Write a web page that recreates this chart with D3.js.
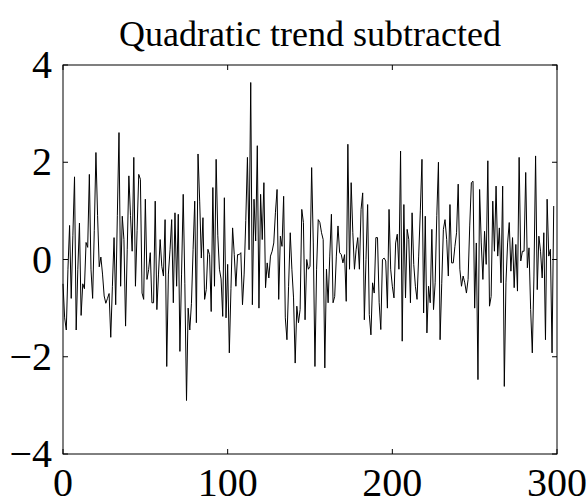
<!DOCTYPE html>
<html>
<head>
<meta charset="utf-8">
<script src="https://cdn.jsdelivr.net/npm/d3@7"></script>
<style>
  body { margin: 0; background: #fff; }
  text { font-family: "Liberation Serif", "Times New Roman", serif; fill: #000; }
</style>
</head>
<body>
<div id="chart"></div>
<script>
// residuals after removing the quadratic trend
var residuals = [
  -0.5, -1.2, -1.45, -0.2, 0.7, -0.8, 0.5, 1.7, -1.45, -0.2,
  0.75, -1.15, -0.5, -0.6, 0.35, 0.25, 1.75, -0.2, -0.8, 0.6,
  2.2, 0.9, -0.15, 0.05, -0.3, -0.75, -0.9, -0.8, -0.7, -1.6,
  -0.55, 0.45, -0.93, 0.9, 2.61, -0.55, 0.89, 0.41, -1.37, 0.2,
  1.72, 0.9, 0.17, 2.1, -0.55, 0.6, 1.75, 1.65, -0.69, -0.82,
  1.24, -0.41, -0.21, 0.14, -0.89, -0.89, 1.2, -1.03, -0.3, 0.41,
  -0.14, -0.34, 0.82, -2.2, -0.3, 0.2, 0.82, -0.89, 0.96, -0.55,
  0.93, -1.89, -0.3, 1.34, -0.5, -2.9, -1.0, -1.45, -0.9, 0.2,
  1.2, -1.3, 2.17, 1.2, 0.03, 0.86, -0.82, -0.62, 0.21, 0.1,
  -1.07, 1.48, -0.55, 2.06, 0.5, -0.2, -0.4, -1.17, 1.27, -1.2,
  -0.1, -1.92, -0.6, 0.65, 0.1, -0.55, 0.1, 0.1, 0.14, -0.93,
  -0.3, 0.8, 2.1, 0.2, 3.64, -0.93, 1.24, 0.38, 2.34, -1.0,
  1.34, 0.41, 1.58, -0.58, -0.07, -0.38, 0.07, 0.17, 0.34, 0.96,
  1.44, -0.82, 0.48, 0.27, 1.3, -1.2, -1.65, -0.55, 0.55, -0.2,
  -0.79, -2.13, -0.96, -1.3, -1.03, 1.03, 0.76, -1.24, 0, -0.2,
  -0.14, 1.89, 0.34, -2.2, -0.2, 0.82, 0.76, 0.55, 0.41, -2.23,
  -0.2, -0.89, 0.07, 0.93, -0.89, -0.76, 0.07, 0.69, 0.14, 0.1,
  -0.07, 0.1, -0.86, 2.37, -0.2, 1.58, 0.55, -0.2, 0.2, 0.45,
  -0.2, 1.03, 1.37, -1.24, 0.0, 1.13, -1.13, -1.55, -0.48, -0.69,
  0.45, 0.45, -0.89, -1.44, 0, 0.03, -0.03, -1.0, 1.03, -0.2,
  -0.55, -0.79, 0.34, 0.52, -0.2, 2.23, -1.68, 1.13, -0.79, 0.62,
  0.41, -0.89, 0.96, -0.1, -0.55, -0.82, 0.07, 1.0, 2.06, -1.1,
  0.89, -1.51, -0.55, -0.89, 0.62, -1.03, -0.48, 0.9, 2.0, -1.65,
  -0.5, 0.62, 0.82, 0.41, -0.34, 1.13, -0.07, -0.07, 0.27, 0.55,
  1.55, -0.2, -0.55, -0.34, -0.48, -0.69, -0.41, 0.69, 1.58, 1.61,
  -1.0, 0.34, -2.47, 1.44, 0.34, -0.41, 0.58, -0.1, 2.03, -0.96,
  -0.76, 1.2, 0.17, 1.51, 0.07, 0.65, -0.48, 1.51, -2.61, -0.48,
  0.34, 0.76, -0.24, 0.45, -0.58, 0.31, -0.65, 2.1, -0.03, 0.17,
  0.17, 1.79, -0.17, 0.24, -1.03, -1.92, -0.34, 2.13, -0.62, 0.48,
  0.17, -0.38, 0.55, -1.65, 1.24, 0.07, 0.21, -1.92, 1.1
];
var xTicks = [0, 100, 200, 300];
var yTicks = [-4, -2, 0, 2, 4];
var title = "Quadratic trend subtracted";

function draw() {
  var width = 588, height = 499;
  var m = { left: 63, right: 557, top: 65, bottom: 454 };

  var svg = d3.select("#chart").append("svg")
    .attr("width", width)
    .attr("height", height);

  var x = d3.scaleLinear().domain([0, 300]).range([m.left, m.right]);
  var y = d3.scaleLinear().domain([-4, 4]).range([m.bottom, m.top]);

  var fmt = function(d) { return d < 0 ? "\u2212" + Math.abs(d) : String(d); };

  // frame
  svg.append("rect")
    .attr("x", m.left).attr("y", m.top)
    .attr("width", m.right - m.left).attr("height", m.bottom - m.top)
    .attr("fill", "none").attr("stroke", "#000").attr("stroke-width", 1);

  // ticks, inward on all four sides
  var tl = 5;
  svg.selectAll("line.xb").data(xTicks).enter().append("line")
    .attr("x1", x).attr("x2", x).attr("y1", m.bottom).attr("y2", m.bottom - tl)
    .attr("stroke", "#000");
  svg.selectAll("line.xt").data(xTicks).enter().append("line")
    .attr("x1", x).attr("x2", x).attr("y1", m.top).attr("y2", m.top + tl)
    .attr("stroke", "#000");
  svg.selectAll("line.yl").data(yTicks).enter().append("line")
    .attr("y1", y).attr("y2", y).attr("x1", m.left).attr("x2", m.left + tl)
    .attr("stroke", "#000");
  svg.selectAll("line.yr").data(yTicks).enter().append("line")
    .attr("y1", y).attr("y2", y).attr("x1", m.right).attr("x2", m.right - tl)
    .attr("stroke", "#000");

  // tick labels
  svg.selectAll("text.xl").data(xTicks).enter().append("text")
    .attr("x", x).attr("y", 496)
    .attr("text-anchor", "middle")
    .style("font-size", "40px")
    .text(fmt);
  svg.selectAll("text.yl").data(yTicks).enter().append("text")
    .attr("x", 52).attr("y", function(d) { return y(d) + 13; })
    .attr("text-anchor", "end")
    .style("font-size", "40px")
    .text(fmt);

  // title
  svg.append("text")
    .attr("x", (m.left + m.right) / 2).attr("y", 46)
    .attr("text-anchor", "middle")
    .style("font-size", "36px")
    .text(title);

  // the series
  var line = d3.line()
    .x(function(d, i) { return x(i); })
    .y(function(d) { return y(d); });

  svg.append("path")
    .datum(residuals)
    .attr("d", line)
    .attr("fill", "none")
    .attr("stroke", "#000")
    .attr("stroke-width", 1);
}

draw();
</script>
</body>
</html>
